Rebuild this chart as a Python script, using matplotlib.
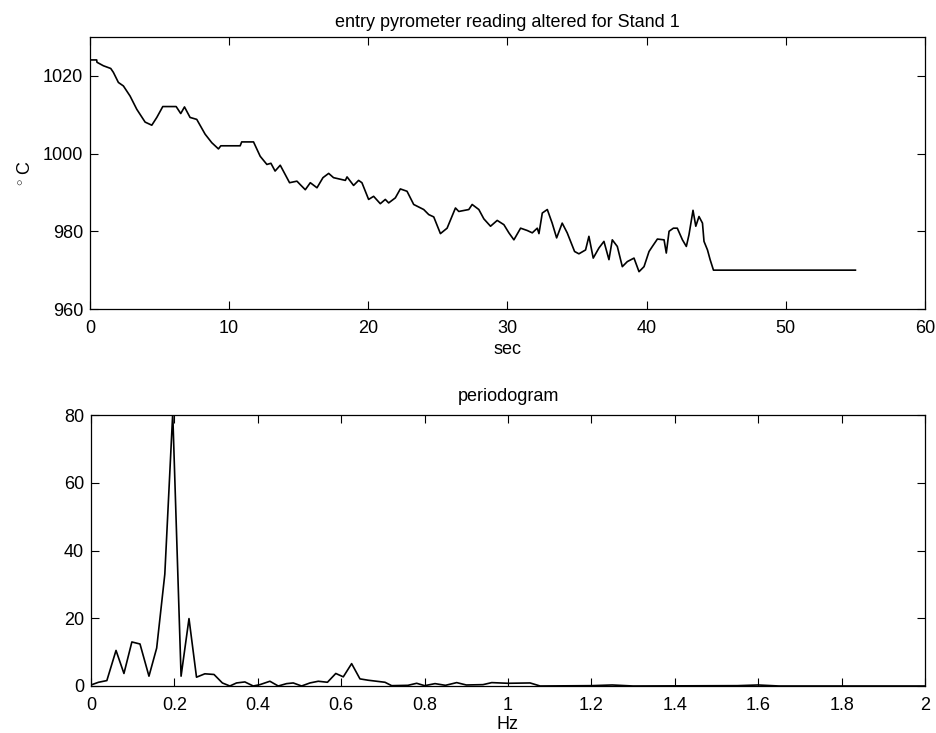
import matplotlib
matplotlib.use("Agg")
import matplotlib.pyplot as plt

plt.rcParams['font.family'] = ['Liberation Sans', 'DejaVu Sans']
plt.rcParams['mathtext.fontset'] = 'custom'
plt.rcParams['mathtext.rm'] = 'Liberation Sans'

# --- top panel: entry pyrometer temperature (deg C) vs time (s) ---
time_s = [0, 0.48, 0.5, 0.96, 1.49, 1.68, 2.04, 2.4, 2.88, 3.36, 3.96, 4.44, 4.8,
          5.23, 6.19, 6.52, 6.79, 7.19, 7.67, 8.27, 8.75, 9.23, 9.4, 10.79, 10.9,
          11.75, 12.23, 12.71, 13.0, 13.3, 13.67, 14.34, 14.87, 15.11, 15.47, 15.83,
          16.31, 16.74, 17.15, 17.5, 18.35, 18.47, 18.94, 19.3, 19.54, 20.02, 20.38,
          20.86, 21.22, 21.46, 21.94, 22.3, 22.78, 23.26, 23.98, 24.34, 24.7, 25.18,
          25.66, 26.26, 26.5, 27.22, 27.46, 27.94, 28.3, 28.78, 29.26, 29.74, 30.1,
          30.46, 30.94, 31.42, 31.78, 32.14, 32.26, 32.5, 32.86, 33.21, 33.53, 33.93,
          34.29, 34.82, 35.13, 35.61, 35.85, 36.16, 36.57, 36.93, 37.29, 37.53, 37.89,
          38.25, 38.61, 39.09, 39.45, 39.81, 40.17, 40.41, 40.77, 41.25, 41.41, 41.61,
          41.92, 42.2, 42.57, 42.85, 43.04, 43.33, 43.53, 43.76, 44.01, 44.12, 44.37,
          44.56, 44.8, 55.0]
temp_c = [1024.1, 1024.1, 1023.5, 1022.6, 1021.9, 1020.9, 1018.3, 1017.4, 1014.8,
          1011.4, 1008.1, 1007.3, 1009.3, 1012.1, 1012.1, 1010.3, 1012.0, 1009.3,
          1008.8, 1005.0, 1002.8, 1001.2, 1002.0, 1002.0, 1003.0, 1003.0, 999.3,
          997.2, 997.5, 995.5, 997.0, 992.5, 992.9, 992.0, 990.7, 992.5, 991.2, 993.8,
          994.9, 993.8, 993.1, 994.0, 991.8, 993.1, 992.5, 988.2, 989.0, 987.1, 988.2,
          987.3, 988.6, 990.9, 990.3, 986.9, 985.6, 984.3, 983.7, 979.4, 980.8, 986.0,
          985.1, 985.6, 986.9, 985.6, 983.2, 981.3, 982.8, 981.7, 979.6, 977.8, 980.8,
          980.2, 979.6, 980.8, 979.4, 984.7, 985.6, 982.1, 978.3, 982.1, 979.6, 974.8,
          974.2, 975.2, 978.7, 973.1, 975.7, 977.4, 972.7, 977.8, 976.1, 970.9, 972.2,
          973.1, 969.6, 970.9, 974.8, 976.1, 978.0, 977.8, 974.4, 980.0, 980.8, 980.8,
          977.8, 976.1, 979.1, 985.4, 981.3, 983.8, 982.1, 977.4, 975.2, 972.7, 970.0,
          970.0]

# --- bottom panel: periodogram ---
freq_hz = [0.0, 0.018, 0.038, 0.06, 0.079, 0.098, 0.1175, 0.139, 0.1575, 0.177,
           0.196, 0.216, 0.235, 0.253, 0.273, 0.295, 0.315, 0.333, 0.349, 0.369,
           0.389, 0.405, 0.429, 0.449, 0.469, 0.485, 0.505, 0.525, 0.545, 0.567,
           0.587, 0.605, 0.625, 0.645, 0.665, 0.685, 0.705, 0.721, 0.76, 0.781, 0.80,
           0.825, 0.85, 0.877, 0.90, 0.94, 0.961, 1.0, 1.053, 1.077, 1.2, 1.25, 1.3,
           1.55, 1.6, 1.65, 2.0]
power = [0.3, 1.1, 1.6, 10.5, 3.7, 13.0, 12.4, 2.9, 11.2, 33.0,
         80.5, 2.9, 19.9, 2.6, 3.6, 3.4, 0.9, 0.0, 0.9, 1.2,
         0.0, 0.4, 1.4, 0.0, 0.7, 0.9, 0.0, 0.9, 1.4, 1.1,
         3.7, 2.7, 6.6, 2.1, 1.7, 1.4, 1.1, 0.1, 0.2, 0.8, 0.1,
         0.7, 0.2, 1.0, 0.3, 0.4, 1.0, 0.8, 0.9, 0.0, 0.1, 0.3, 0.0,
         0.1, 0.3, 0.0, 0.0]

top_xticks = [0, 10, 20, 30, 40, 50, 60]
top_yticks = [960, 980, 1000, 1020]
bot_xticks = [0, 0.2, 0.4, 0.6, 0.8, 1.0, 1.2, 1.4, 1.6, 1.8, 2.0]
bot_xticklabels = ['0', '0.2', '0.4', '0.6', '0.8', '1', '1.2', '1.4', '1.6', '1.8', '2']
bot_yticks = [0, 20, 40, 60, 80]

W, H = 937, 733
fig = plt.figure(figsize=(W / 100, H / 100), dpi=100)

ax1 = fig.add_axes([90 / W, 1 - 309 / H, 835 / W, 272 / H])
ax2 = fig.add_axes([91 / W, 1 - 686 / H, 834 / W, 271 / H])

FS = 13

ax1.plot(time_s, temp_c, color='black', lw=1.2)
ax1.set_xlim(0, 60)
ax1.set_ylim(960, 1030)
ax1.set_xticks(top_xticks)
ax1.set_yticks(top_yticks)
ax1.set_title('entry pyrometer reading altered for Stand 1', fontsize=FS, pad=7)
ax1.set_xlabel('sec', fontsize=FS, labelpad=2.5)
ax1.set_ylabel(r'$^{\circ}$ C', fontsize=FS, labelpad=6)

ax2.plot(freq_hz, power, color='black', lw=1.2)
ax2.set_xlim(0, 2)
ax2.set_ylim(0, 80)
ax2.set_xticks(bot_xticks)
ax2.set_xticklabels(bot_xticklabels)
ax2.set_yticks(bot_yticks)
ax2.set_title('periodogram', fontsize=FS, pad=10)
ax2.set_xlabel('Hz', fontsize=FS, labelpad=1.5)

for ax in (ax1, ax2):
    ax.tick_params(direction='in', length=5.5, width=0.8, top=True, right=True,
                   labelsize=FS)
    ax.tick_params(axis='x', pad=8)
    ax.tick_params(axis='y', pad=5)
    for s in ax.spines.values():
        s.set_linewidth(0.9)

fig.savefig('out.png', dpi=100, facecolor='white')
